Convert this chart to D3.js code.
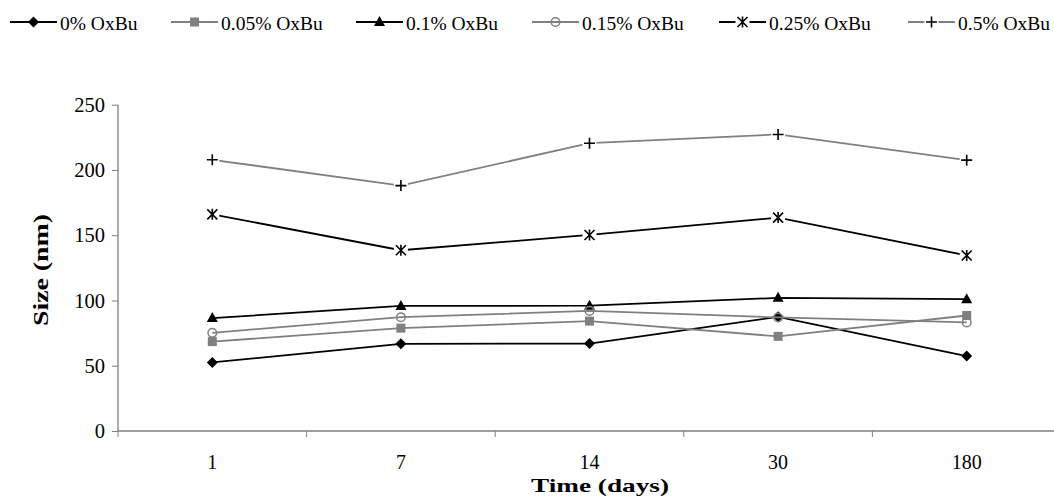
<!DOCTYPE html>
<html>
<head>
<meta charset="utf-8">
<script src="https://cdn.jsdelivr.net/npm/d3@7"></script>
<style>
  body { margin: 0; background: #fff; }
  svg text { font-family: "Liberation Serif", "Times New Roman", serif; fill: #000; }
</style>
</head>
<body>
<svg class="chart" width="1054" height="496"></svg>
<script>
// data
const days = ['1', '7', '14', '30', '180'];
const seriesNames = ['0% OxBu', '0.05% OxBu', '0.1% OxBu', '0.15% OxBu', '0.25% OxBu', '0.5% OxBu'];
const ox0 = [52.5, 66.8, 67, 87.5, 57.4];
const ox005 = [68.5, 78.8, 84.2, 72.5, 88.5];
const ox01 = [86.5, 95.8, 96, 102, 101];
const ox015 = [75.2, 87.2, 92, 87, 83.2];
const ox025 = [166, 138.5, 150.2, 163.5, 134.5];
const ox05 = [207.8, 188, 220.5, 227.2, 207.5];
const yTicks = [0, 50, 100, 150, 200, 250];

const series = [
    { name: seriesNames[0], values: ox0, line: '#000', marker: 'diamond' },
    { name: seriesNames[1], values: ox005, line: '#808080', marker: 'square' },
    { name: seriesNames[2], values: ox01, line: '#000', marker: 'triangle' },
    { name: seriesNames[3], values: ox015, line: '#808080', marker: 'circle' },
    { name: seriesNames[4], values: ox025, line: '#000', marker: 'star' },
    { name: seriesNames[5], values: ox05, line: '#808080', marker: 'plus' }
];
const legendX = [10, 171, 356, 532, 719, 908];

const svg = d3.select('.chart');
const plotLeft = 118, plotBottom = 431, plotTop = 104.7;

const xscale = d3.scaleBand().domain(days).range([plotLeft, 1061]).paddingInner(0).paddingOuter(0);
const yscale = d3.scaleLinear().domain([0, 250]).range([plotBottom, plotTop]);

// y axis
const yAxis = d3.axisLeft(yscale).tickValues(yTicks).tickSize(6).tickSizeOuter(0).tickPadding(7);
const gy = svg.append('g').attr('transform', `translate(${plotLeft},0)`).call(yAxis);
gy.select('.domain').attr('stroke', '#808080').attr('stroke-width', 1.3).attr('d', `M0,${plotTop}V${plotBottom}`);
gy.selectAll('.tick line').attr('stroke', '#808080');
gy.selectAll('.tick text').style('font-size', '20.5px').attr('dy', '0.33em');

// x axis
svg.append('line')
    .attr('x1', plotLeft).attr('x2', 1061).attr('y1', plotBottom).attr('y2', plotBottom)
    .attr('stroke', '#808080').attr('stroke-width', 1.3);
svg.append('g').selectAll('line')
    .data(days)
    .join('line')
    .attr('x1', d => xscale(d)).attr('x2', d => xscale(d))
    .attr('y1', plotBottom).attr('y2', plotBottom + 6)
    .attr('stroke', '#808080');
svg.append('g').selectAll('text')
    .data(days)
    .join('text')
    .attr('x', d => xscale(d) + xscale.bandwidth() / 2)
    .attr('y', 469)
    .attr('text-anchor', 'middle')
    .style('font-size', '20px')
    .text(d => d);

// axis titles
svg.append('text')
    .attr('transform', `translate(48,270)rotate(-90)`)
    .attr('text-anchor', 'middle')
    .attr('textLength', 112).attr('lengthAdjust', 'spacingAndGlyphs')
    .style('font-size', '22px').style('font-weight', 'bold')
    .text('Size (nm)');
svg.append('text')
    .attr('x', 600).attr('y', 491.5)
    .attr('text-anchor', 'middle')
    .attr('textLength', 138).attr('lengthAdjust', 'spacingAndGlyphs')
    .style('font-size', '19.5px').style('font-weight', 'bold')
    .text('Time (days)');

function drawMarker(g, type, cx, cy) {
    if (type === 'diamond') {
        g.append('path').attr('d', `M${cx},${cy - 5.5}L${cx + 5.5},${cy}L${cx},${cy + 5.5}L${cx - 5.5},${cy}Z`).attr('fill', '#000');
    } else if (type === 'square') {
        g.append('rect').attr('x', cx - 4.5).attr('y', cy - 4.5).attr('width', 9).attr('height', 9).attr('fill', '#808080');
    } else if (type === 'triangle') {
        g.append('path').attr('d', `M${cx},${cy - 6}L${cx + 5.5},${cy + 4}L${cx - 5.5},${cy + 4}Z`).attr('fill', '#000');
    } else if (type === 'circle') {
        g.append('circle').attr('cx', cx).attr('cy', cy).attr('r', 4.3).attr('fill', 'none').attr('stroke', '#808080').attr('stroke-width', 1.5);
    } else if (type === 'star') {
        g.append('rect').attr('x', cx - 7).attr('y', cy - 6).attr('width', 14).attr('height', 12).attr('fill', '#fff');
        g.append('path').attr('d', `M${cx - 5},${cy - 5}L${cx + 5},${cy + 5}M${cx + 5},${cy - 5}L${cx - 5},${cy + 5}M${cx},${cy - 5.5}V${cy + 5.5}`)
            .attr('stroke', '#000').attr('stroke-width', 1.6).attr('fill', 'none');
    } else if (type === 'plus') {
        g.append('rect').attr('x', cx - 7).attr('y', cy - 6).attr('width', 14).attr('height', 12).attr('fill', '#fff');
        g.append('path').attr('d', `M${cx - 5.5},${cy}H${cx + 5.5}M${cx},${cy - 5.5}V${cy + 5.5}`)
            .attr('stroke', '#000').attr('stroke-width', 1.6).attr('fill', 'none');
    }
}

const line = d3.line()
    .x((d, i) => xscale(days[i]) + xscale.bandwidth() / 2)
    .y(d => yscale(d));

series.forEach((s) => {
    const g = svg.append('g');
    g.append('path')
        .attr('d', line(s.values))
        .attr('fill', 'none')
        .attr('stroke', s.line)
        .attr('stroke-width', 1.8);
    s.values.forEach((v, i) => {
        drawMarker(g, s.marker, xscale(days[i]) + xscale.bandwidth() / 2, yscale(v));
    });
});

// legend
series.forEach((s, i) => {
    const g = svg.append('g');
    const x0 = legendX[i], ly = 22;
    g.append('line').attr('x1', x0).attr('x2', x0 + 47).attr('y1', ly).attr('y2', ly)
        .attr('stroke', s.line).attr('stroke-width', 1.8);
    drawMarker(g, s.marker, x0 + 23.5, ly);
    g.append('text').attr('x', x0 + 50).attr('y', 30)
        .style('font-size', '19.5px')
        .text(s.name);
});
</script>
</body>
</html>
